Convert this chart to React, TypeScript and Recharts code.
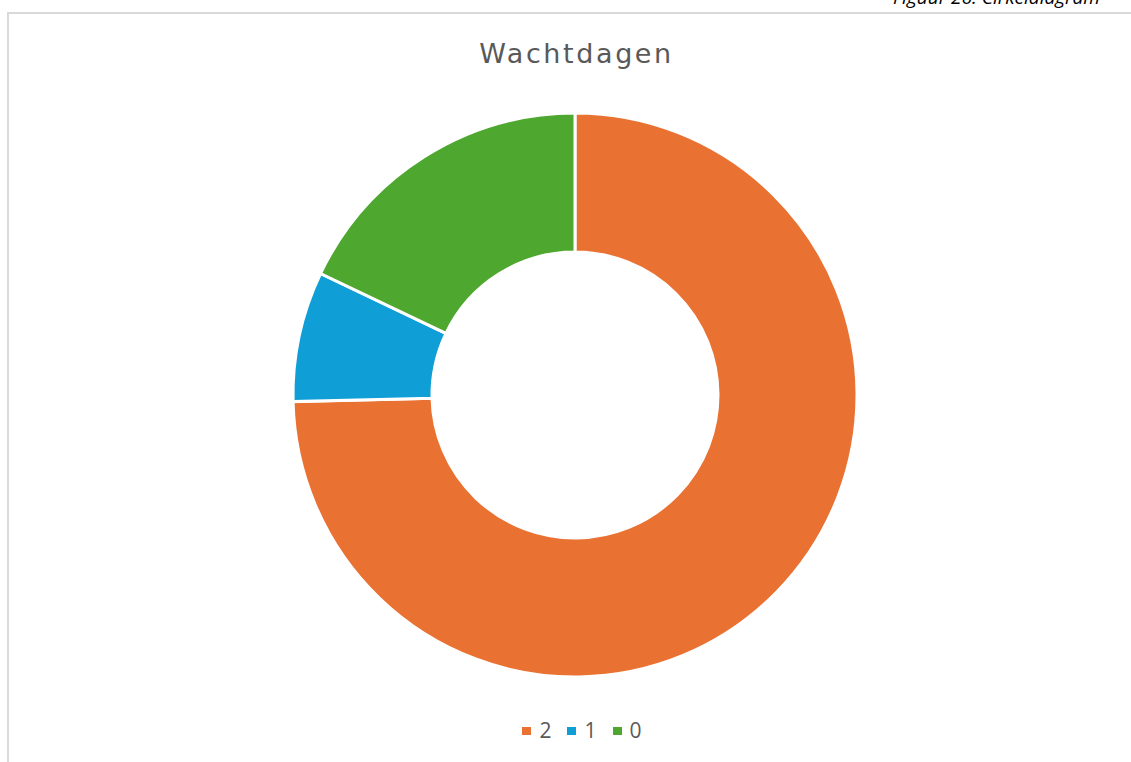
import React from "react";
import { PieChart, Pie, Cell, Legend } from "recharts";

const categories = ["2", "1", "0"];
const values = [50, 5, 12];
const colors = ["#E97132", "#0F9ED5", "#4EA72E"];

const data = categories.map((name, i) => ({ name, value: values[i] }));

const LegendContent = () => {
  return (
    <div style={{ display: "flex", justifyContent: "center", alignItems: "center", fontFamily: "Open Sans, sans-serif" }}>
      {categories.map((c, i) => (
        <div key={c} style={{ display: "flex", alignItems: "center", marginRight: i < categories.length - 1 ? 16 : 0 }}>
          <div style={{ width: 9, height: 8, background: colors[i], marginRight: 8 }} />
          <span style={{ fontSize: 21, color: "#595959", lineHeight: "21px" }}>{c}</span>
        </div>
      ))}
    </div>
  );
};

export default function App() {
  return (
    <div style={{ position: "fixed", left: 0, top: 0, width: 1131, height: 762, overflow: "hidden", background: "#fff" }}>
      <div style={{ position: "absolute", left: 7, top: 12, right: 0, height: 2, background: "#d9d9d9" }} />
      <div style={{ position: "absolute", left: 7, top: 12, width: 2, bottom: 0, background: "#d9d9d9" }} />
      <div style={{ position: "absolute", left: 893, top: -16, whiteSpace: "nowrap", fontFamily: "Open Sans, sans-serif", fontStyle: "italic", fontSize: 19, color: "#000" }}>
        Figuur 26: Cirkeldiagram
      </div>
      <div style={{ position: "absolute", left: 0, width: 1153, top: 38, textAlign: "center", fontFamily: "DejaVu Sans, sans-serif", fontSize: 27, letterSpacing: 2.6, color: "#595959" }}>
        Wachtdagen
      </div>
      <div style={{ position: "absolute", left: 0, top: 0 }}>
        <PieChart width={1131} height={762} margin={{ top: 0, right: 0, bottom: 0, left: 0 }}>
          <Pie
            data={data}
            dataKey="value"
            nameKey="name"
            cx={575}
            cy={395}
            outerRadius={282}
            innerRadius={143}
            startAngle={90}
            endAngle={-270}
            stroke="#ffffff"
            strokeWidth={3}
            isAnimationActive={false}
          >
            {data.map((d, i) => (
              <Cell key={d.name} fill={colors[i]} />
            ))}
          </Pie>
          <Legend
            content={<LegendContent />}
            wrapperStyle={{ position: "absolute", left: 0, width: 1164, top: 720 }}
          />
        </PieChart>
      </div>
    </div>
  );
}
